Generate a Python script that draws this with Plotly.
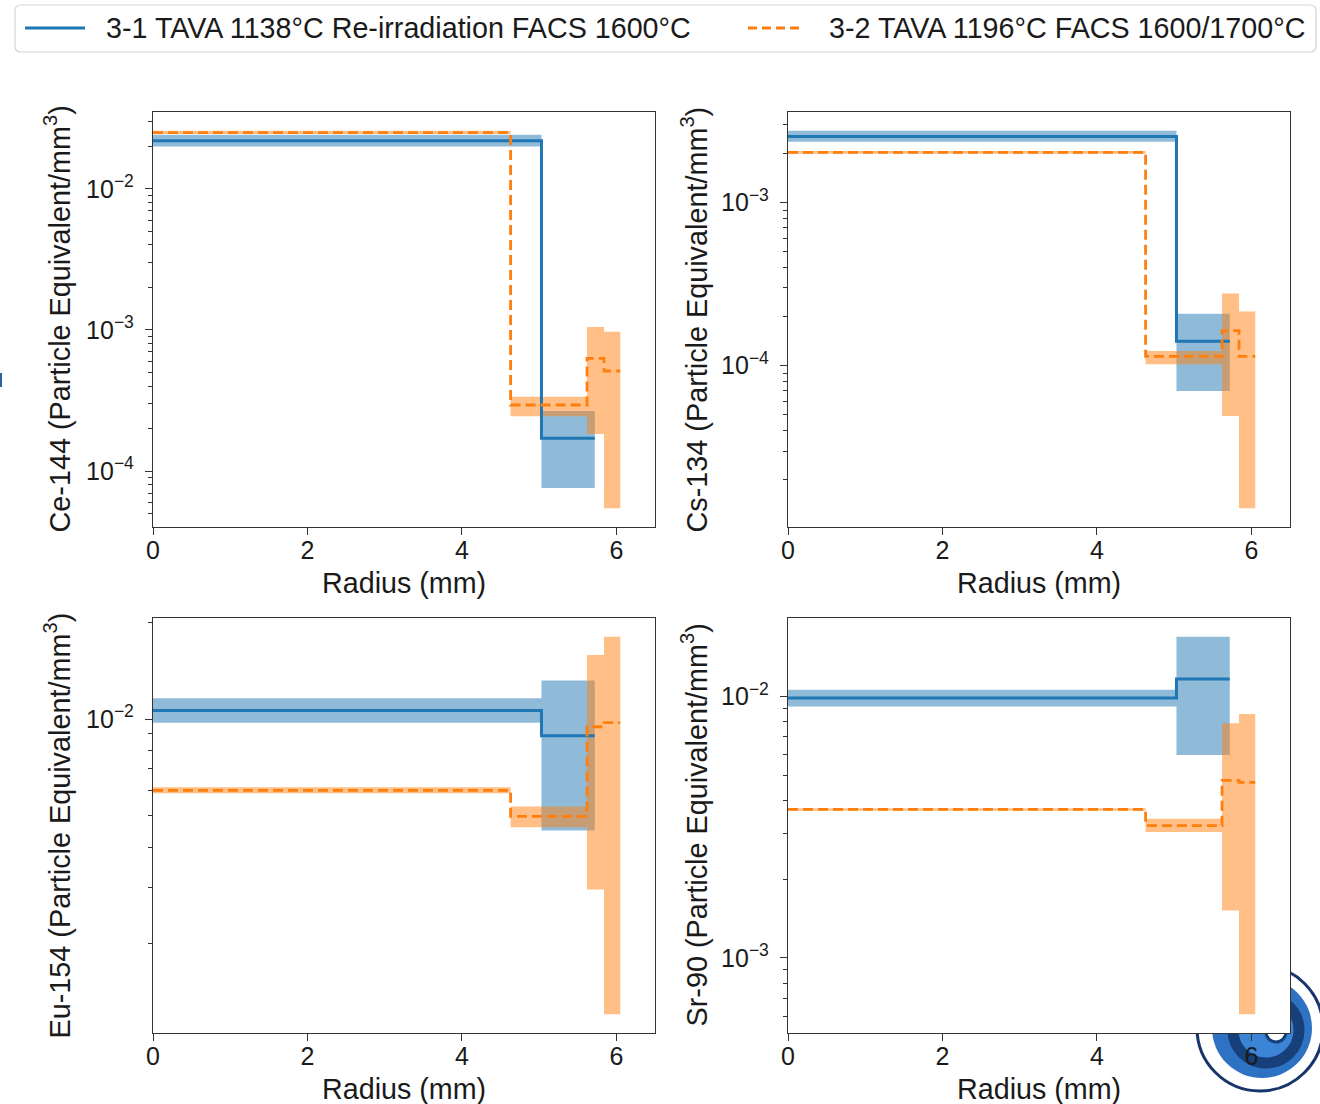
import math
import plotly.graph_objects as go

W, H = 1320, 1104

# ---------------- data ----------------
SERIES_NAMES = ["3-1 TAVA 1138°C Re-irradiation FACS 1600°C",
                "3-2 TAVA 1196°C FACS 1600/1700°C"]
NUCLIDES = ["Ce-144", "Cs-134", "Eu-154", "Sr-90"]

# radial bin edges (mm)
EDGES_31 = [0.0, 5.03, 5.72]
EDGES_32 = [0.0, 4.63, 5.62, 5.84, 6.05]

# Ce-144
CE_31_MID = [2.19e-2, 1.71e-4]
CE_31_LO = [1.99e-2, 7.6e-5]
CE_31_HI = [2.41e-2, 2.67e-4]
CE_32_MID = [2.50e-2, 2.94e-4, 6.3e-4, 5.12e-4]
CE_32_LO = [2.44e-2, 2.45e-4, 1.83e-4, 5.47e-5]
CE_32_HI = [2.57e-2, 3.36e-4, 1.05e-3, 9.7e-4]

# Cs-134
CS_31_MID = [2.54e-3, 1.41e-4]
CS_31_LO = [2.36e-3, 7.0e-5]
CS_31_HI = [2.75e-3, 2.08e-4]
CS_32_MID = [2.03e-3, 1.14e-4, 1.64e-4, 1.14e-4]
CS_32_LO = [1.99e-3, 1.02e-4, 4.91e-5, 1.34e-5]
CS_32_HI = [2.07e-3, 1.23e-4, 2.77e-4, 2.15e-4]

# Eu-154
EU_31_MID = [1.062e-2, 8.87e-3]
EU_31_LO = [9.74e-3, 4.5e-3]
EU_31_HI = [1.16e-2, 1.318e-2]
EU_32_MID = [6.0e-3, 4.98e-3, 9.46e-3, 9.74e-3]
EU_32_LO = [5.88e-3, 4.61e-3, 2.95e-3, 1.21e-3]
EU_32_HI = [6.14e-3, 5.35e-3, 1.58e-2, 1.80e-2]

# Sr-90
SR_31_MID = [9.86e-3, 1.167e-2]
SR_31_LO = [9.15e-3, 5.97e-3]
SR_31_HI = [1.06e-2, 1.69e-2]
SR_32_MID = [3.70e-3, 3.21e-3, 4.78e-3, 4.69e-3]
SR_32_LO = [3.66e-3, 3.03e-3, 1.52e-3, 6.1e-4]
SR_32_HI = [3.74e-3, 3.41e-3, 7.9e-3, 8.56e-3]

X_TICKS = [0, 2, 4, 6]
X_RANGE = [0, 6.5]

PANELS = [
    (CE_31_MID, CE_31_LO, CE_31_HI, CE_32_MID, CE_32_LO, CE_32_HI),
    (CS_31_MID, CS_31_LO, CS_31_HI, CS_32_MID, CS_32_LO, CS_32_HI),
    (EU_31_MID, EU_31_LO, EU_31_HI, EU_32_MID, EU_32_LO, EU_32_HI),
    (SR_31_MID, SR_31_LO, SR_31_HI, SR_32_MID, SR_32_LO, SR_32_HI),
]

# ---------------- styling / layout ----------------
BLUE = "#1f77b4"
ORANGE = "#ff7f0e"
BLUE_FILL = "rgba(31,119,180,0.5)"
ORANGE_FILL = "rgba(255,127,14,0.5)"
AXCOL = "#333333"
TXT = "#1a1a1a"
FONT = "Liberation Sans, Arial, sans-serif"

# pixel boxes (left, right, top, bottom)
BOXES = [(153, 655, 112, 527), (788, 1290, 112, 527),
         (153, 655, 618, 1033), (788, 1290, 618, 1033)]


def px(x):
    return x / W


def py(y):
    return 1 - y / H


def ext(v):
    return list(v) + [v[-1]]


fig = go.Figure()
layout_axes = {}

for i, (panel, box) in enumerate(zip(PANELS, BOXES), start=1):
    m1, l1, h1, m2, l2, h2 = panel
    xa = "x" if i == 1 else f"x{i}"
    ya = "y" if i == 1 else f"y{i}"
    common = dict(xaxis=xa, yaxis=ya, hoverinfo="skip", showlegend=False)
    # uncertainty bands
    for edges, lo, hi, fc in ((EDGES_31, l1, h1, BLUE_FILL), (EDGES_32, l2, h2, ORANGE_FILL)):
        fig.add_trace(go.Scatter(x=edges, y=ext(lo), mode="lines",
                                 line=dict(width=0, shape="hv"), **common))
        fig.add_trace(go.Scatter(x=edges, y=ext(hi), mode="lines", fill="tonexty",
                                 fillcolor=fc, line=dict(width=0, shape="hv"), **common))
    # step lines
    fig.add_trace(go.Scatter(x=EDGES_31, y=ext(m1), mode="lines", name=SERIES_NAMES[0],
                             line=dict(color=BLUE, width=3, shape="hv"),
                             xaxis=xa, yaxis=ya, showlegend=False))
    fig.add_trace(go.Scatter(x=EDGES_32, y=ext(m2), mode="lines", name=SERIES_NAMES[1],
                             line=dict(color=ORANGE, width=2.8, shape="hv", dash="10px,5px"),
                             xaxis=xa, yaxis=ya, showlegend=False))

    # log range with 5% margins (matplotlib-like autoscale)
    allv = list(l1) + list(h1) + list(l2) + list(h2)
    lmin, lmax = math.log10(min(allv)), math.log10(max(allv))
    pad = 0.05 * (lmax - lmin)
    r0, r1 = lmin - pad, lmax + pad
    majors = [10.0 ** k for k in range(math.floor(r0), math.ceil(r1) + 1)
              if r0 <= k <= r1]
    majors_txt = [f"10<sup>\u2212{-int(round(math.log10(v)))}</sup>" for v in majors]
    minors = []
    for k in range(math.floor(r0), math.ceil(r1) + 1):
        for m in range(2, 10):
            v = m * 10.0 ** k
            if r0 <= math.log10(v) <= r1:
                minors.append(v)

    L, R, T, B = box
    layout_axes["xaxis" if i == 1 else f"xaxis{i}"] = dict(
        domain=[px(L), px(R)], anchor=ya, range=X_RANGE,
        tickmode="array", tickvals=X_TICKS, ticktext=[str(t) for t in X_TICKS],
        ticks="outside", ticklen=7, tickwidth=1.3, tickcolor=AXCOL,
        ticklabelstandoff=-6,
        showline=True, mirror=True, linecolor=AXCOL, linewidth=1.3,
        showgrid=False, zeroline=False, automargin=False,
        tickfont=dict(size=25, color=TXT, family=FONT))
    layout_axes["yaxis" if i == 1 else f"yaxis{i}"] = dict(
        domain=[py(B), py(T)], anchor=xa, type="log", range=[r0, r1],
        tickmode="array", tickvals=majors, ticktext=majors_txt,
        ticks="outside", ticklen=7, tickwidth=1.3, tickcolor=AXCOL,
        ticklabelstandoff=6,
        minor=dict(tickmode="array", tickvals=minors, ticks="outside", ticklen=4,
                   tickwidth=1.1, tickcolor=AXCOL, showgrid=False),
        showline=True, mirror=True, linecolor=AXCOL, linewidth=1.3,
        showgrid=False, zeroline=False, automargin=False,
        tickfont=dict(size=25, color=TXT, family=FONT))

annotations = []
for (L, R, T, B), nuc in zip(BOXES, NUCLIDES):
    annotations.append(dict(
        text=f"{nuc} (Particle Equivalent/mm<sup>3</sup>)", textangle=-90,
        x=px(L - 96 if L < 400 else L - 94), y=py((T + B) / 2),
        xref="paper", yref="paper", xanchor="center", yanchor="middle",
        showarrow=False, font=dict(size=28.8, color=TXT, family=FONT)))
    annotations.append(dict(
        text="Radius (mm)", x=px((L + R) / 2), y=py(B + 56),
        xref="paper", yref="paper", xanchor="center", yanchor="middle",
        showarrow=False, font=dict(size=28.7, color=TXT, family=FONT)))

# legend (drawn manually to match the reference layout)
annotations.append(dict(text=SERIES_NAMES[0], x=px(104), y=py(28), xref="paper", yref="paper",
                        xanchor="left", yanchor="middle", showarrow=False,
                        font=dict(size=28.7, color=TXT, family=FONT)))
annotations.append(dict(text=SERIES_NAMES[1], x=px(827), y=py(28), xref="paper", yref="paper",
                        xanchor="left", yanchor="middle", showarrow=False,
                        font=dict(size=28.7, color=TXT, family=FONT)))

shapes = []
# logo (partially hidden behind the lower-right panel)
cx, cy = 1260, 1028


def circ(r, dx=0, dy=0, **kw):
    return dict(type="circle", xref="paper", yref="paper", layer="below",
                x0=px(cx + dx - r), x1=px(cx + dx + r),
                y0=py(cy + dy + r), y1=py(cy + dy - r), **kw)


shapes.append(circ(63, line=dict(color="#17366b", width=3), fillcolor="white"))
shapes.append(circ(50, dx=2, line=dict(width=0), fillcolor="#2e72c4"))
shapes.append(circ(33, dx=6, dy=2, line=dict(color="#173f7a", width=11), fillcolor="#3b84d6"))
shapes.append(circ(10, dx=16, dy=4, line=dict(color="#173f7a", width=3), fillcolor="white"))
# white cover of the panel area so the logo stays behind it
L, R, T, B = BOXES[3]
shapes.append(dict(type="rect", xref="paper", yref="paper", layer="below",
                   x0=px(L), x1=px(R), y0=py(B), y1=py(T),
                   line=dict(width=0), fillcolor="white"))
# small mark at left edge
shapes.append(dict(type="line", xref="paper", yref="paper", x0=px(1), x1=px(1),
                   y0=py(373), y1=py(387), line=dict(color="#3060a0", width=2)))

# legend box with rounded corners
x0, x1, y0, y1, rr = 15, 1316, 5, 52, 6
path = (f"M {px(x0+rr)},{py(y0)} L {px(x1-rr)},{py(y0)} Q {px(x1)},{py(y0)} {px(x1)},{py(y0+rr)} "
        f"L {px(x1)},{py(y1-rr)} Q {px(x1)},{py(y1)} {px(x1-rr)},{py(y1)} "
        f"L {px(x0+rr)},{py(y1)} Q {px(x0)},{py(y1)} {px(x0)},{py(y1-rr)} "
        f"L {px(x0)},{py(y0+rr)} Q {px(x0)},{py(y0)} {px(x0+rr)},{py(y0)} Z")
shapes.append(dict(type="path", path=path, xref="paper", yref="paper",
                   line=dict(color="#d4d4d4", width=1.2), fillcolor="white", layer="above"))
shapes.append(dict(type="line", xref="paper", yref="paper", x0=px(25), x1=px(85),
                   y0=py(28), y1=py(28), line=dict(color=BLUE, width=3)))
shapes.append(dict(type="line", xref="paper", yref="paper", x0=px(748), x1=px(801),
                   y0=py(28), y1=py(28), line=dict(color=ORANGE, width=2.8, dash="9px,5px")))

fig.update_layout(
    width=W, height=H, margin=dict(l=0, r=0, t=0, b=0),
    paper_bgcolor="white", plot_bgcolor="white",
    font=dict(family=FONT, color=TXT),
    showlegend=False,
    annotations=annotations, shapes=shapes,
    **layout_axes)

fig.write_html("out.html", config={"displayModeBar": False},
               post_script="document.body.style.margin='0px';document.body.style.overflow='hidden';")
